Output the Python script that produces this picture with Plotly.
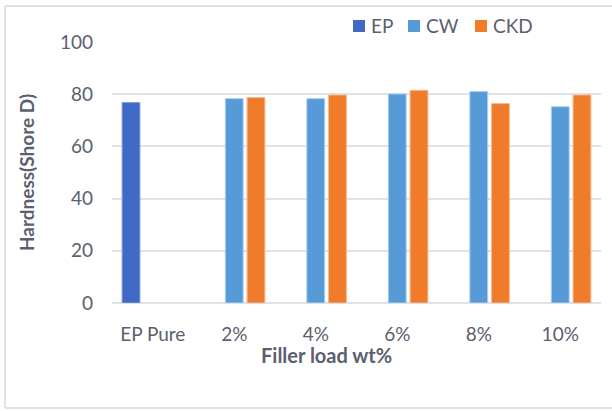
import plotly.graph_objects as go

categories = ["EP Pure", "2%", "4%", "6%", "8%", "10%"]
ep_values = [76.8, None, None, None, None, None]
cw_values = [None, 78.3, 78.3, 80.1, 81.0, 75.2]
ckd_values = [None, 78.7, 79.7, 81.5, 76.4, 79.7]
y_ticks = [0, 20, 40, 60, 80, 100]

series_names = ["EP", "CW", "CKD"]
series_colors = ["#3f69c4", "#579ad8", "#f07b2a"]
edge_colors = ["#7f9ee0", "#a9cdee", "#f8b98e"]

font_family = "Lato, Carlito, 'Open Sans', sans-serif"
grey = "#5a606e"

W, H = 612, 411
L, R, T, B = 112, 11, 42, 108
pw, ph = W - L - R, H - T - B


def px_x(x):
    return (x - L) / pw


def px_y(y):
    return (H - B - y) / ph


fig = go.Figure()
for name, vals, col, edge in zip(series_names, [ep_values, cw_values, ckd_values],
                                 series_colors, edge_colors):
    fig.add_trace(go.Bar(name=name, x=categories, y=vals,
                         marker=dict(color=col, line=dict(color=edge, width=1))))

# legend swatches and labels placed in a row above the plot
legend_x = [353, 408, 475]
shapes = []
annotations = []
for name, col, x0 in zip(series_names, series_colors, legend_x):
    shapes.append(dict(type="rect", xref="paper", yref="paper",
                       x0=px_x(x0), x1=px_x(x0 + 12), y0=px_y(32), y1=px_y(20),
                       fillcolor=col, line=dict(width=0)))
    annotations.append(dict(text=name, xref="paper", yref="paper",
                            x=px_x(x0 + 16), y=px_y(26), xanchor="left", yanchor="middle",
                            showarrow=False, font=dict(size=19, color=grey)))

# outer frame (top, left and bottom edges)
frame = "#dde1e8"
shapes += [
    dict(type="line", xref="paper", yref="paper", x0=px_x(5), x1=px_x(612),
         y0=px_y(6), y1=px_y(6), line=dict(color=frame, width=2)),
    dict(type="line", xref="paper", yref="paper", x0=px_x(5), x1=px_x(5),
         y0=px_y(6), y1=px_y(408), line=dict(color=frame, width=2)),
    dict(type="line", xref="paper", yref="paper", x0=px_x(5), x1=px_x(612),
         y0=px_y(408), y1=px_y(408), line=dict(color=frame, width=2)),
]

annotations.append(dict(text="<b>Filler load wt%</b>", xref="paper", yref="paper",
                        x=px_x(326), y=px_y(355), showarrow=False,
                        xanchor="center", yanchor="middle",
                        font=dict(size=20, color=grey)))

fig.update_layout(
    width=W, height=H,
    margin=dict(l=L, r=R, t=T, b=B),
    paper_bgcolor="white", plot_bgcolor="white",
    barmode="group", bargap=0.2, bargroupgap=0.18,
    font=dict(family=font_family, color=grey, size=19),
    showlegend=False,
    xaxis=dict(showgrid=False, showline=False, ticks="",
               tickfont=dict(size=19, color=grey), ticklabelstandoff=18),
    yaxis=dict(range=[0, 100], tickvals=y_ticks, showgrid=True, gridcolor="#dfe2e8",
               gridwidth=2, zeroline=True, zerolinecolor="#dfe2e8", zerolinewidth=2,
               showline=False, ticks="", tickfont=dict(size=19, color=grey),
               ticklabelstandoff=18,
               title=dict(text="<b>Hardness(Shore D)</b>", font=dict(size=19, color=grey),
                          standoff=20)),
    shapes=shapes,
    annotations=annotations,
)

fig.write_html("out.html")
